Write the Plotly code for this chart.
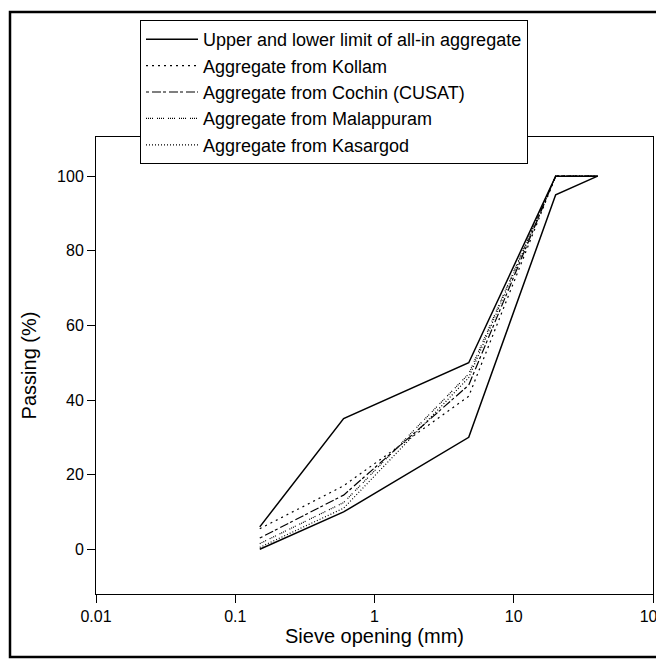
import plotly.graph_objects as go

sieve = [0.15, 0.6, 4.75, 20, 40]
lower_limit = [0, 10, 30, 95, 100]
upper_limit = [6, 35, 50, 100, 100]
kollam = [5.5, 17, 41, 100, 100]
cochin = [3, 14.5, 44, 100, 100]
malappuram = [1.5, 12.5, 47, 100, 100]
kasargod = [0.5, 11, 46, 100, 100]

names = ["Upper and lower limit of all-in aggregate", "Aggregate from Kollam",
         "Aggregate from Cochin (CUSAT)", "Aggregate from Malappuram",
         "Aggregate from Kasargod"]

fig = go.Figure()
# envelope: lower limit out, upper limit back
env_x = sieve + sieve[::-1]
env_y = lower_limit + upper_limit[::-1]
fig.add_trace(go.Scatter(x=env_x, y=env_y, mode="lines", name=names[0],
                         line=dict(color="black", width=1.5)))
series = [kollam, cochin, malappuram, kasargod]
dashes = ["2px,4px", "3px,3px,9px,2px", "1px,1px,1px,1px,1px,1px,1px,4px", "1px,2px"]
for nm, ys, d in zip(names[1:], series, dashes):
    fig.add_trace(go.Scatter(x=sieve, y=ys, mode="lines", name=nm,
                             line=dict(color="black", width=1.2, dash=d)))

font = "Liberation Sans, Arial, sans-serif"
axis_common = dict(showline=True, linecolor="black", linewidth=1, mirror=True,
                   ticks="outside", ticklen=8, tickcolor="black", tickwidth=1,
                   showgrid=False, zeroline=False, automargin=False,
                   tickfont=dict(family=font, size=16, color="black"))

# plot area in figure coords (page has 8px body margin)
L, T, R, B = 88, 129, 645, 586
W, H = R - L, B - T

fig.update_xaxes(type="log", range=[-2, 2], tickvals=[0.01, 0.1, 1, 10, 100],
                 ticktext=["0.01", "0.1", "1", "10", "100"],
                 title=dict(text="Sieve opening (mm)", font=dict(family=font, size=20, color="black"),
                            standoff=0),
                 **axis_common)
fig.update_yaxes(range=[-12, 110.5], tickvals=[0, 20, 40, 60, 80, 100],
                 title=dict(text="Passing (%)", font=dict(family=font, size=20, color="black")),
                 **axis_common)

# outer frame
fig.add_shape(type="rect", xref="paper", yref="paper",
              x0=(2 - L) / W, x1=(652 - L) / W,
              y0=(B - 649) / H, y1=(B - 4) / H,
              line=dict(color="black", width=2.5), fillcolor="rgba(0,0,0,0)", layer="above")

fig.update_layout(
    width=664, height=660,
    margin=dict(l=L, r=664 - R, t=T, b=660 - B, autoexpand=False),
    paper_bgcolor="white", plot_bgcolor="white",
    showlegend=True,
    legend=dict(x=(132 - L) / W, y=(B - 12) / H, xanchor="left", yanchor="top",
                bgcolor="white", bordercolor="black", borderwidth=1,
                font=dict(family=font, size=18, color="black"),
                itemwidth=52, tracegroupgap=0),
)

fig.write_html("out.html")
